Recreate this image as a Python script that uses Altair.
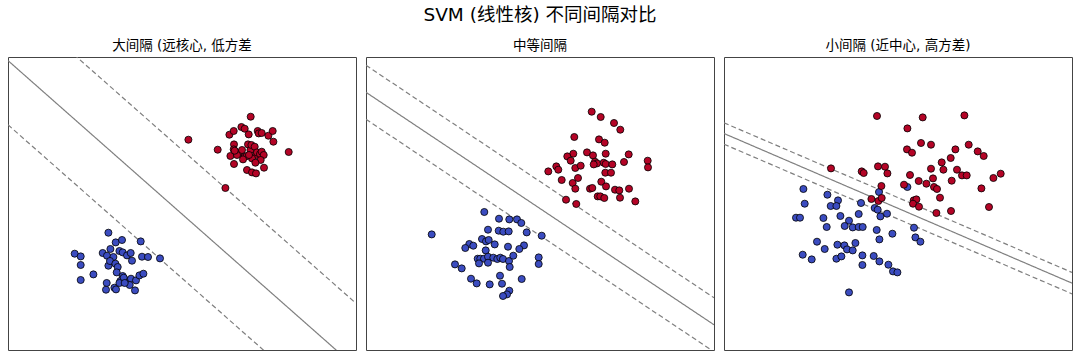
import altair as alt
import pandas as pd

TITLE = "SVM (线性核) 不同间隔对比"
PANEL_TITLES = ["大间隔 (远核心, 低方差", "中等间隔", "小间隔 (近中心, 高方差)"]
FONT = "DejaVu Sans, Noto Sans CJK SC"

X_DOMAIN = [0, 34.8]
Y_DOMAIN = [0, 29.3]

# decision boundary y = slope*x + intercept, margins at +/- offset
BOUNDARY_SLOPE = [-0.882, -0.668, -0.43]
BOUNDARY_INTERCEPT = [28.94, 25.77, 21.65]
MARGIN_OFFSET = [6.42, 2.70, 1.07]

# ---------------- panel 1 ----------------
p1_red_x = [24.27, 18.04, 20.97, 21.74, 28.07, 22.14, 22.57, 23.34, 23.67, 24.07, 24.97, 25.07, 25.37, 26.04, 26.47,
            26.54, 22.6, 22.57, 22.24, 22.6, 23.07, 23.4, 23.67, 24.0, 24.24, 24.34, 24.67, 24.8, 24.4, 24.9, 25.2,
            25.37, 25.57, 25.27, 24.74, 23.87, 23.5, 22.9, 25.6, 23.9, 24.4, 24.8, 22.67, 24.1]
p1_red_y = [23.33, 21.03, 20.03, 16.2, 19.8, 21.53, 21.9, 22.3, 22.13, 21.56, 21.9, 21.66, 21.7, 21.43, 21.9,
            20.83, 20.56, 20.06, 19.4, 18.6, 19.66, 20.0, 19.33, 20.56, 20.0, 20.5, 20.33, 19.5, 19.16, 19.76, 19.6,
            19.83, 19.5, 19.0, 18.73, 19.4, 19.06, 19.5, 18.23, 18.0, 17.76, 17.66, 19.93, 19.5]
p1_blue_x = [10.04, 10.77, 11.4, 13.27, 6.67, 7.27, 9.47, 9.9, 10.24, 10.54, 11.14, 11.47, 11.9, 12.27, 12.4, 13.4,
             14.0, 15.2, 7.27, 10.04, 10.2, 10.74, 10.97, 10.87, 8.54, 7.27, 11.47, 11.24, 11.7, 11.57, 12.3, 12.8,
             13.14, 13.54, 9.87, 9.8, 10.64, 10.8, 12.17, 12.7, 11.14, 11.67]
p1_blue_y = [11.73, 10.76, 11.0, 10.86, 9.63, 9.36, 9.7, 9.43, 10.1, 9.3, 9.9, 9.76, 9.46, 9.7, 8.93, 9.33,
             9.3, 9.16, 8.5, 8.43, 8.9, 8.63, 8.3, 7.76, 7.56, 7.0, 7.4, 6.9, 7.03, 7.23, 7.13, 6.96,
             7.46, 7.63, 6.7, 6.03, 6.23, 6.06, 6.5, 5.96, 6.7, 6.7]

# ---------------- panel 2 ----------------
p2_red_x = [22.57, 23.47, 24.8, 25.43, 20.83, 23.3, 23.87, 20.73, 20.13, 20.47, 22.1, 22.7, 23.97, 26.27, 22.9,
            23.1, 22.77, 23.77, 23.97, 24.63, 25.8, 28.17, 28.2, 19.03, 19.23, 18.23, 20.93, 21.47, 23.93, 24.5,
            19.57, 20.67, 21.2, 20.93, 22.4, 22.63, 23.53, 24.0, 24.9, 25.33, 26.3, 23.17, 23.43, 23.83, 25.4,
            26.93, 20.0, 21.03]
p2_red_y = [23.83, 23.3, 22.7, 22.03, 21.3, 21.06, 20.73, 19.63, 19.36, 18.93, 19.76, 19.46, 19.63, 19.56, 18.83,
            18.66, 18.56, 18.73, 18.6, 18.56, 18.8, 18.93, 18.26, 18.36, 18.03, 17.86, 18.2, 18.43, 17.73, 17.73,
            17.0, 16.7, 17.2, 16.13, 16.13, 16.2, 16.83, 16.36, 16.03, 15.96, 16.13, 15.36, 15.36, 15.2, 15.23,
            14.86, 15.03, 14.6]
p2_blue_x = [11.83, 13.3, 14.33, 15.1, 15.53, 6.57, 12.2, 13.27, 13.73, 14.27, 16.07, 17.57, 11.6, 12.0, 12.27,
             10.33, 10.73, 9.93, 12.87, 14.2, 15.8, 15.33, 11.97, 11.17, 11.43, 11.8, 12.2, 12.73, 13.13, 13.43,
             13.7, 14.3, 14.73, 11.3, 12.2, 14.37, 17.27, 17.27, 8.9, 9.57, 10.5, 11.07, 13.4, 15.57, 12.37, 13.6,
             14.33, 14.1, 13.7]
p2_blue_y = [13.8, 13.13, 13.06, 13.06, 12.7, 11.56, 12.03, 11.93, 11.83, 11.86, 11.76, 11.43, 11.1, 10.86, 11.0,
             10.6, 10.43, 10.2, 10.56, 10.33, 10.46, 10.1, 9.96, 9.13, 9.13, 9.13, 9.33, 9.23, 9.1, 9.23,
             9.1, 8.9, 9.43, 8.66, 8.73, 8.3, 9.26, 8.6, 8.56, 8.16, 7.13, 6.66, 7.43, 7.1, 6.56, 6.63,
             5.93, 5.56, 5.4]

# ---------------- panel 3 ----------------
p3_red_x = [15.3, 19.87, 24.04, 18.34, 19.7, 20.7, 18.3, 18.8, 23.14, 24.47, 25.37, 25.97, 22.67, 21.77, 10.7,
            13.77, 13.97, 15.4, 16.1, 16.34, 20.7, 21.94, 23.3, 18.6, 20.9, 23.8, 24.27, 27.67, 26.94, 19.47,
            20.24, 22.77, 21.0, 21.3, 18.0, 15.74, 25.74, 21.6, 14.74, 15.44, 15.77, 18.97, 19.24, 18.9, 19.5,
            26.5, 22.7, 21.24]
p3_red_y = [23.4, 23.26, 23.46, 22.16, 20.7, 20.53, 20.06, 19.73, 20.06, 20.53, 19.86, 19.4, 19.2, 18.76, 18.16,
            17.86, 17.7, 18.36, 18.33, 17.66, 18.13, 18.03, 18.03, 17.5, 17.16, 17.46, 17.46, 17.63, 17.2, 16.9,
            16.63, 16.93, 16.3, 16.1, 16.53, 16.4, 16.16, 15.23, 15.1, 14.9, 15.2, 14.96, 15.06, 14.63, 14.33,
            14.3, 13.9, 13.7]
p3_blue_x = [7.94, 10.34, 11.4, 8.07, 10.67, 11.24, 13.7, 15.5, 18.34, 7.2, 7.6, 9.94, 11.64, 13.47, 15.07,
             15.37, 16.3, 15.64, 12.5, 10.27, 12.07, 12.87, 13.47, 13.87, 15.27, 19.0, 16.84, 15.54, 19.14, 19.64,
             9.3, 10.07, 11.34, 12.04, 12.3, 12.87, 13.14, 7.87, 8.77, 11.24, 11.74, 13.84, 13.84, 14.97, 15.54,
             16.44, 16.9, 17.34, 12.5]
p3_blue_y = [16.1, 15.53, 14.96, 14.63, 14.4, 14.4, 14.7, 15.8, 16.3, 13.23, 13.23, 13.2, 13.4, 13.6, 14.2,
             14.03, 13.63, 13.36, 12.93, 12.3, 12.4, 12.26, 12.3, 12.3, 12.0, 12.23, 11.63, 11.06, 11.26, 10.83,
             10.83, 10.1, 10.53, 10.46, 10.06, 9.96, 10.7, 9.53, 9.06, 9.13, 9.36, 9.46, 8.5, 9.4, 8.86,
             8.53, 7.86, 7.76, 5.76]

PANELS = [
    (p1_red_x, p1_red_y, p1_blue_x, p1_blue_y),
    (p2_red_x, p2_red_y, p2_blue_x, p2_blue_y),
    (p3_red_x, p3_red_y, p3_blue_x, p3_blue_y),
]

BLUE = "#3b4cc0"
RED = "#b40426"
LINE_COLOR = "#7f7f7f"


def make_panel(i):
    rx, ry, bx, by = PANELS[i]
    pts = pd.DataFrame({
        "x": list(bx) + list(rx),
        "y": list(by) + list(ry),
        "cls": ["0"] * len(bx) + ["1"] * len(rx),
    })
    m, c, d = BOUNDARY_SLOPE[i], BOUNDARY_INTERCEPT[i], MARGIN_OFFSET[i]
    rows = []
    for name, off, kind in [("upper", d, "dashed"), ("mid", 0.0, "solid"), ("lower", -d, "dashed")]:
        for xv in X_DOMAIN:
            rows.append({"line": name, "kind": kind, "x": xv, "y": m * xv + c + off})
    lines_df = pd.DataFrame(rows)

    xs = alt.Scale(domain=X_DOMAIN, nice=False, zero=False)
    ys = alt.Scale(domain=Y_DOMAIN, nice=False, zero=False)

    lines = alt.Chart(lines_df).mark_line(clip=True, color=LINE_COLOR, strokeWidth=1.2).encode(
        x=alt.X("x:Q", scale=xs, axis=None),
        y=alt.Y("y:Q", scale=ys, axis=None),
        detail="line:N",
        strokeDash=alt.StrokeDash("kind:N", scale=alt.Scale(domain=["solid", "dashed"],
                                                              range=[[1, 0], [5, 3]]), legend=None),
    )
    points = alt.Chart(pts).mark_point(filled=True, size=50, stroke="black", strokeWidth=0.8,
                                       opacity=1, clip=True).encode(
        x=alt.X("x:Q", scale=xs, axis=None),
        y=alt.Y("y:Q", scale=ys, axis=None),
        fill=alt.Fill("cls:N", scale=alt.Scale(domain=["0", "1"], range=[BLUE, RED]), legend=None),
    )
    return alt.layer(lines, points).properties(
        width=348, height=293,
        title=alt.TitleParams(PANEL_TITLES[i], fontSize=13.5, font=FONT, fontWeight="normal",
                              color="black", offset=5),
    )


chart = alt.hconcat(*[make_panel(i) for i in range(3)], spacing=8).properties(
    title=alt.TitleParams(TITLE, fontSize=18.5, font=FONT, fontWeight="normal", color="black",
                          anchor="middle", offset=14),
    padding={"left": 7, "top": 5, "right": 5, "bottom": 5},
).configure_view(stroke="#444444", strokeWidth=1)

chart.save("out.html", embed_options={"renderer": "svg", "actions": False})
